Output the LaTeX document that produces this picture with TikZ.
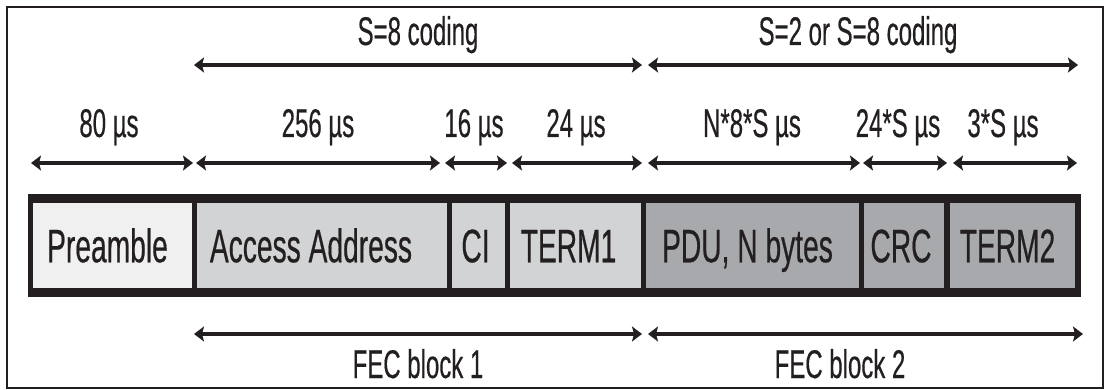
\documentclass[tikz,border=0pt]{standalone}
\usepackage{fontspec}
\usepackage{tikz}
\usetikzlibrary{positioning,arrows.meta}
\newfontfamily\narrowsf{Liberation Sans}[FakeStretch=0.6,FakeBold=0.4]
\definecolor{inkblk}{HTML}{231F20}
\definecolor{preg}{HTML}{F0F0F0}
\definecolor{hdrg}{HTML}{D1D3D4}
\definecolor{payg}{HTML}{A7A9AC}

\begin{document}
\begin{tikzpicture}[
  x=1pt, y=-1pt,
  lbl/.style={font=\narrowsf\fontsize{40}{44}\selectfont, text=inkblk, inner sep=0pt, anchor=base},
  cell/.style={font=\narrowsf\fontsize{47}{50}\selectfont, text=inkblk, inner sep=0pt,
    minimum height=85pt, text height=33.5pt, text depth=0pt},
  span/.style={draw=inkblk, line width=4pt,
    {Stealth[length=10pt,width=15pt,inset=2pt]}-{Stealth[length=10pt,width=15pt,inset=2pt]}}
]
\useasboundingbox (0,0) rectangle (1105,390);
\draw[inkblk, line width=2pt] (7,7) rectangle (1103,388);

% packet bar
\fill[inkblk] (28,194) rectangle (1081,297);
\node[cell, fill=preg, minimum width=159pt] (pre) at (112.5,245.5) {Preamble\hspace*{10pt}};
\node[cell, fill=hdrg, minimum width=250pt] (aa) at (322,245.5) {Access Address\hspace*{22pt}};
\node[cell, fill=hdrg, minimum width=53pt] (ci) at (478.5,245.5) {CI\hspace*{6pt}};
\node[cell, fill=hdrg, minimum width=131pt] (term1) at (575.5,245.5) {TERM1\hspace*{14pt}};
\node[cell, fill=payg, minimum width=213pt] (pdu) at (752.5,245.5) {PDU, N bytes\hspace*{10pt}};
\node[cell, fill=payg, minimum width=80pt] (crc) at (904,245.5) {CRC\hspace*{6pt}};
\node[cell, fill=payg, minimum width=125pt] (term2) at (1012.5,245.5) {TERM2\hspace*{10pt}};

% coding spans
\coordinate (s8a) at (194,65);
\coordinate (s8b) at (642,65);
\coordinate (s2a) at (648,65);
\coordinate (s2b) at (1078,65);
\draw[span] (s8a) -- (s8b);
\draw[span] (s2a) -- (s2b);
\node[lbl] (s8lbl) at (418,45) {S=8 coding};
\node[lbl] (s2lbl) at (858,45) {S=2 or S=8 coding};

% durations
\coordinate (d1a) at (31,163);
\coordinate (d1b) at (193,163);
\coordinate (d2a) at (196,163);
\coordinate (d2b) at (440,163);
\coordinate (d3a) at (445,163);
\coordinate (d3b) at (507,163);
\coordinate (d4a) at (512,163);
\coordinate (d4b) at (642,163);
\coordinate (d5a) at (648,163);
\coordinate (d5b) at (860,163);
\coordinate (d6a) at (863,163);
\coordinate (d6b) at (947,163);
\coordinate (d7a) at (953,163);
\coordinate (d7b) at (1077,163);
\draw[span] (d1a) -- (d1b);
\draw[span] (d2a) -- (d2b);
\draw[span] (d3a) -- (d3b);
\draw[span] (d4a) -- (d4b);
\draw[span] (d5a) -- (d5b);
\draw[span] (d6a) -- (d6b);
\draw[span] (d7a) -- (d7b);
\node[lbl] (t80) at (109,137) {80 µs};
\node[lbl] (t256) at (318,137) {256 µs};
\node[lbl] (t16) at (474,137) {16 µs};
\node[lbl] (t24) at (576,137) {24 µs};
\node[lbl] (tpdu) at (752,137) {N*8*S µs};
\node[lbl] (tcrc) at (898,137) {24*S µs};
\node[lbl] (tterm) at (1003,137) {3*S µs};

% FEC blocks
\coordinate (f1a) at (194,334);
\coordinate (f1b) at (642,334);
\coordinate (f2a) at (648,334);
\coordinate (f2b) at (1083,334);
\draw[span] (f1a) -- (f1b);
\draw[span] (f2a) -- (f2b);
\node[lbl] (fec1) at (418,378) {FEC block 1};
\node[lbl] (fec2) at (840,378) {FEC block 2};
\end{tikzpicture}
\end{document}
